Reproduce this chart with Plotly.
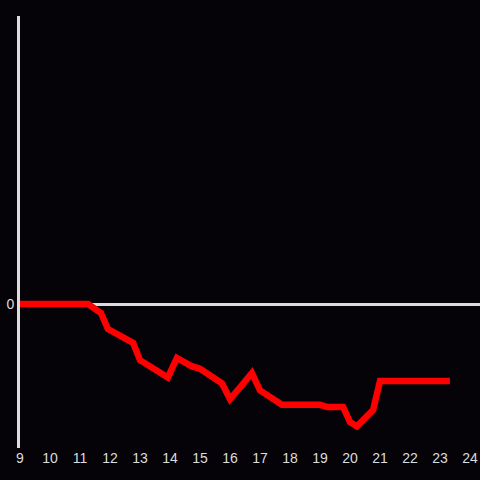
import plotly.graph_objects as go

hours = [9.0, 11.27, 11.7, 11.93, 12.77, 13.0, 13.93, 14.23, 14.7, 15.0, 15.73, 16.0,
         16.33, 16.73, 17.0, 17.73, 19.0, 19.23, 19.77, 20.0, 20.23, 20.77, 21.0, 23.33]
values = [0, 0, -6.3, -17.4, -27, -39, -51, -37.5, -43, -45, -55, -66,
          -58, -48, -60, -70, -70, -71.5, -71.5, -82, -85, -73.6, -53.5, -53.5]
x_ticks = list(range(9, 25))
y_ticks = [0]

bg = "#050308"
fg = "#dcdcdc"

fig = go.Figure(go.Scatter(x=hours, y=values, mode="lines",
                           line=dict(color="#ff0000", width=6.5),
                           hoverinfo="skip"))
fig.update_layout(
    width=480, height=480,
    paper_bgcolor=bg, plot_bgcolor=bg,
    margin=dict(l=20, r=0, t=16, b=32),
    showlegend=False,
    font=dict(family="Liberation Sans, Arial, sans-serif", size=14, color=fg),
)
fig.update_xaxes(range=[9, 24.333], tickvals=x_ticks, showgrid=False,
                 zeroline=False, showline=False, ticks="", ticklen=0,
                 tickfont=dict(color=fg, size=14))
fig.update_yaxes(range=[-100, 200], tickvals=y_ticks, showgrid=False,
                 zeroline=True, zerolinecolor=fg, zerolinewidth=3,
                 showline=True, linecolor=fg, linewidth=3, ticks="",
                 tickfont=dict(color=fg, size=14))
fig.write_html("out.html", config={"displayModeBar": False},
               post_script="document.body.style.margin='0';document.body.style.overflow='hidden';document.body.style.background='" + bg + "';")
